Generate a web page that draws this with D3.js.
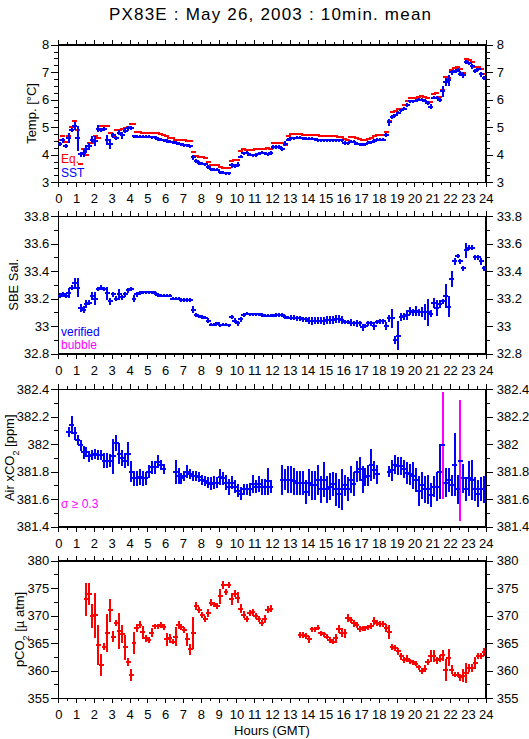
<!DOCTYPE html>
<meta charset="utf-8">
<style>
body { margin: 0; background: #fff; }
svg text { font-family: "Liberation Sans", Arial, Helvetica, sans-serif; }
.axis path, .axis line { stroke: #000; shape-rendering: crispEdges; }
.axis text { font-size: 13px; fill: #000; }
.frame { fill: none; stroke: #000; shape-rendering: crispEdges; }
.marks line { stroke-width: 2; shape-rendering: crispEdges; }
</style>
<svg width="529" height="739"></svg>
<script src="https://d3js.org/d3.v7.min.js"></script>
<script>
// 10-minute bins over the day, index i -> hours (i + 0.5) / 6
const minutes = d3.range(5, 1440, 10);
const hourTicks = d3.range(0, 25, 1);
const halfTicks = d3.range(0.5, 24, 1);

// Equilibrator temperature [degC] (one row per hour)
const eqTemp = [
  4.53, 4.68, 4.48, 4.68, 5.02, 5.22,
  4.9, 3.65, 4.2, 4.0, 4.43, 4.43,
  4.68, 4.6, 5.05, 5.05, 5.05, 4.78,
  4.68, 4.9, 4.9, 4.93, 4.96, 5.0,
  5.12, 5.12, 4.83, 4.83, 4.8, 4.8,
  4.8, 4.8, 4.78, 4.78, 4.75, 4.72,
  4.68, 4.6, 4.6, 4.55, 4.53, 4.53,
  4.53, 4.5, 4.5, 4.1, 3.95, 3.9,
  3.9, 3.88, 3.72, 3.62, 3.62, 3.62,
  3.56, 3.53, 3.53, 3.5, 3.78, 3.8,
  3.8, 4.12, 4.22, 4.17, 4.17, 4.17,
  4.2, 4.22, 4.22, 4.2, 4.25, 4.2,
  4.43, 4.43, 4.43, 4.43, 4.37, 4.68,
  4.75, 4.75, 4.75, 4.75, 4.72, 4.72,
  4.72, 4.72, 4.72, 4.7, 4.68, 4.68,
  4.68, 4.68, 4.68, 4.68, 4.65, 4.65,
  4.57, 4.55, 4.63, 4.63, 4.6, 4.57,
  4.52, 4.52, 4.58, 4.62, 4.67, 4.72,
  4.7, 4.7, 4.83, 5.23, 5.54, 5.59,
  5.65, 5.67, 5.8, 5.95, 6.07, 6.07,
  6.07, 6.1, 6.13, 6.1, 6.05, 5.92,
  6.2, 6.23, 6.1, 6.35, 6.84, 6.78,
  7.08, 7.14, 7.2, 7.1, 6.98, 7.47,
  7.45, 7.36, 7.2, 7.2, 7.1, 6.92
];

// Sea surface temperature [degC] and its std dev
const sst = [
  4.38, 4.52, 4.32, 4.6, 4.9, 5.05,
  4.6, 4.02, 4.07, 4.2, 4.3, 4.55,
  4.5, 4.95, 4.9, 4.93, 4.53, 4.4,
  4.7, 4.6, 4.8, 4.7, 4.87, 4.96,
  4.96, 4.67, 4.66, 4.65, 4.66, 4.65,
  4.65, 4.64, 4.63, 4.57, 4.55, 4.53,
  4.5, 4.48, 4.45, 4.43, 4.4, 4.38,
  4.35, 4.34, 4.3, 3.9, 3.77, 3.7,
  3.68, 3.66, 3.55, 3.47, 3.45, 3.45,
  3.36, 3.35, 3.32, 3.32, 3.62, 3.6,
  3.64, 3.93, 4.05, 4.07, 4.0, 3.98,
  3.99, 4.03, 4.07, 4.05, 4.02, 4.07,
  4.28, 4.28, 4.28, 4.2, 4.4, 4.55,
  4.6, 4.6, 4.61, 4.62, 4.6, 4.58,
  4.58, 4.58, 4.56, 4.53, 4.52, 4.52,
  4.53, 4.53, 4.53, 4.53, 4.52, 4.52,
  4.43, 4.42, 4.47, 4.47, 4.4, 4.38,
  4.37, 4.38, 4.43, 4.45, 4.5, 4.55,
  4.55, 4.55, 4.73, 5.18, 5.38, 5.44,
  5.52, 5.62, 5.68, 5.8, 5.95, 5.95,
  5.97, 6.0, 6.0, 5.97, 5.88, 5.75,
  6.08, 6.08, 6.0, 6.3, 6.65, 6.7,
  6.99, 7.02, 7.08, 6.95, 6.9, 7.36,
  7.32, 7.22, 7.04, 7.1, 6.92, 6.78
];
const sstSd = [
  .03, .04, .03, .15, .04, .1,
  .42, .05, .1, .1, .08, .1,
  .15, .1, .05, .04, .15, .15,
  .06, .03, .05, .08, .05, .05,
  .04, .02, .02, .02, .02, .02,
  .02, .02, .02, .02, .02, .02,
  .02, .02, .02, .02, .02, .02,
  .02, .02, .03, .06, .03, .02,
  .02, .02, .03, .02, .02, .02,
  .02, .02, .02, .03, .05, .03,
  .05, .03, .03, .02, .02, .02,
  .02, .02, .02, .02, .02, .04,
  .02, .02, .02, .03, .05, .03,
  .02, .02, .02, .02, .02, .02,
  .02, .02, .02, .02, .02, .02,
  .02, .02, .02, .02, .02, .02,
  .03, .02, .02, .02, .02, .02,
  .02, .02, .02, .02, .02, .02,
  .02, .02, .04, .1, .03, .02,
  .02, .02, .02, .03, .02, .02,
  .02, .02, .02, .02, .03, .05,
  .03, .03, .03, .18, .12, .15,
  .04, .03, .02, .05, .06, .03,
  .03, .05, .03, .02, .05, .03
];

// SBE salinity and std dev
const sal = [
  33.22, 33.23, 33.22, 33.24, 33.28, 33.31,
  33.28, 33.13, 33.12, 33.16, 33.17, 33.22,
  33.2, 33.27, 33.28, 33.27, 33.24, 33.18,
  33.23, 33.2, 33.23, 33.21, 33.23, 33.26,
  33.27, 33.2, 33.23, 33.24, 33.245, 33.245,
  33.245, 33.245, 33.24, 33.225, 33.22, 33.22,
  33.22, 33.22, 33.2, 33.2, 33.2, 33.19,
  33.19, 33.19, 33.19, 33.12, 33.08, 33.07,
  33.065, 33.06, 33.04, 33.01, 33.01, 33.02,
  33.005, 33.01, 33.01, 33.005, 33.065, 33.04,
  33.02, 33.05, 33.08, 33.09, 33.085, 33.085,
  33.085, 33.085, 33.08, 33.075, 33.075, 33.075,
  33.075, 33.08, 33.08, 33.08, 33.065, 33.06,
  33.06, 33.06, 33.055, 33.055, 33.05, 33.05,
  33.04, 33.035, 33.04, 33.04, 33.04, 33.035,
  33.045, 33.045, 33.045, 33.05, 33.05, 33.045,
  33.03, 33.03, 33.025, 33.02, 33.02, 33.02,
  32.99, 33.0, 33.02, 33.02, 33.0, 33.03,
  33.035, 33.035, 33.0, 33.055, 33.055, 32.9,
  32.93, 33.065, 33.07, 33.08, 33.11, 33.1,
  33.11, 33.1, 33.1, 33.1, 33.1, 33.09,
  33.17, 33.13, 33.16, 33.18, 33.22, 33.14,
  33.34, 33.47, 33.51, 33.47, 33.42, 33.55,
  33.57, 33.57, 33.5, 33.5, 33.47, 33.42
];
const salSd = [
  .01, .01, .01, .03, .01, .03,
  .06, .02, .02, .02, .01, .02,
  .04, .01, .01, .01, .04, .02,
  .01, .01, .03, .01, .01, .01,
  .01, .02, .01, .01, .005, .005,
  .005, .005, .005, .005, .005, .005,
  .005, .005, .005, .005, .005, .005,
  .005, .005, .005, .02, .005, .005,
  .005, .005, .01, .005, .005, .005,
  .005, .005, .005, .005, .01, .01,
  .01, .01, .005, .005, .005, .005,
  .005, .005, .005, .005, .005, .005,
  .005, .005, .005, .005, .005, .005,
  .01, .01, .01, .01, .01, .01,
  .02, .02, .02, .02, .02, .02,
  .02, .02, .02, .02, .02, .02,
  .01, .01, .02, .01, .02, .01,
  .02, .01, .01, .01, .02, .01,
  .01, .01, .02, .02, .06, .02,
  .1, .02, .02, .03, .02, .02,
  .03, .02, .03, .05, .09, .02,
  .03, .05, .02, .01, .08, .07,
  .05, .02, .01, .01, .01, .05,
  .01, .01, .01, .01, .02, .01
];

// Air xCO2 [ppm] and std dev (null = calibration / no data)
const xco2 = [
  null, null, null, 382.09, 382.14, 382.08,
  382.03, 381.99, 381.94, 381.94, 381.91, 381.92,
  381.93, 381.92, 381.92, 381.88, 381.88, 381.88,
  381.91, 382.01, 381.93, 381.9, 381.88, 381.93,
  381.8, 381.75, 381.75, 381.76, 381.75, 381.75,
  381.8, 381.83, 381.83, 381.87, 381.85, 381.82,
  null, null, null, 381.8, 381.77, 381.75,
  381.77, 381.8, 381.78, 381.77, 381.77, 381.76,
  381.74, 381.73, 381.72, 381.71, 381.72, 381.72,
  381.76, 381.75, 381.72, 381.69, 381.72, 381.69,
  381.66, 381.64, 381.67, 381.67, 381.67, 381.71,
  381.69, 381.71, 381.69, 381.69, 381.73, 381.69,
  null, null, null, 381.74, 381.74, 381.74,
  381.74, 381.73, 381.72, 381.72, 381.72, 381.65,
  381.72, 381.7, 381.7, 381.74, 381.67, 381.74,
  381.67, 381.69, 381.71, 381.67, 381.64, 381.67,
  381.7, 381.67, 381.74, 381.71, 381.8, 381.82,
  381.74, 381.76, 381.77, 381.85, 381.81, 381.78,
  null, null, null, 381.8, 381.81, 381.85,
  381.84, 381.84, 381.82, 381.79, 381.78, 381.77,
  381.74, 381.66, 381.7, 381.67, 381.67, 381.63,
  381.69, 381.69, 381.8, 381.99, 381.72, 381.74,
  381.7, 381.85, 381.67, 381.88, 381.75, 381.67,
  381.75, 381.74, 381.67, 381.64, 381.67, 381.67
];
const xco2Sd = [
  null, null, null, .03, .06, .04,
  .03, .03, .04, .03, .03, .03,
  .03, .03, .03, .05, .05, .04,
  .12, .05, .07, .05, .05, .08,
  .07, .05, .05, .05, .05, .04,
  .04, .04, .04, .04, .03, .03,
  null, null, null, .08, .05, .03,
  .03, .04, .03, .03, .03, .03,
  .03, .03, .03, .04, .04, .03,
  .05, .04, .05, .05, .04, .04,
  .04, .04, .03, .03, .04, .06,
  .04, .05, .05, .05, .09, .04,
  null, null, null, .1, .07, .09,
  .09, .09, .08, .08, .08, .08,
  .09, .1, .1, .1, .09, .12,
  .09, .09, .08, .11, .1, .14,
  .07, .08, .09, .08, .07, .08,
  .09, .06, .07, .11, .06, .06,
  null, null, null, .03, .07, .06,
  .06, .06, .06, .07, .07, .09,
  .08, .1, .09, .09, .1, .08,
  .07, .1, .19, .38, .1, .08,
  .07, .22, .1, .43, .1, .08,
  .12, .14, .08, .09, .08, .09
];

// pCO2 [uatm] and std dev
const pco2 = [
  null, null, null, null, null, null,
  null, null, null, 373.0, 373.9, 370.0,
  370.1, 364.7, 361.0, 364.4, 366.8, 371.0,
  366.2, 368.7, 367.2, 366.7, 364.3, 361.6,
  359.3, 365.0, 367.8, 368.4, 367.0, 365.9,
  365.6, 366.9, 368.1, 368.1, 368.3, 367.9,
  365.7, 365.9, 365.3, 366.2, 368.3, 367.9,
  367.4, 365.7, 363.9, 366.8, 371.8, 371.0,
  370.1, 369.4, 370.5, 372.4, 372.1, 371.8,
  373.5, 375.6, 374.3, 375.6, 373.0, 374.0,
  373.3, 371.3, 370.2, 369.4, 370.5, 370.6,
  370.0, 369.4, 368.7, 369.4, 371.1, 371.3,
  null, null, null, null, null, null,
  null, null, null, 366.5, 366.5, 366.3,
  365.7, 367.5, 367.5, 367.8, 366.8, 366.6,
  366.2, 365.6, 365.3, 365.9, 367.6, 366.9,
  366.8, 369.6, 369.2, 368.6, 368.3, 367.6,
  367.7, 367.7, 367.9, 368.1, 369.0, 368.7,
  368.5, 368.5, 367.8, 367.0, 364.3, 364.1,
  363.5, 362.6, 362.0, 362.2, 361.7, 361.5,
  361.3, 360.6, 360.0, 360.4, 361.6, 362.6,
  362.6, 361.9, 362.2, 362.8, 360.2, 362.4,
  360.2, 359.3, 359.3, 358.8, 359.1, 359.6,
  360.5, 360.5, 361.4, 362.7, 362.7, 363.4
];
const pco2Sd = [
  null, null, null, null, null, null,
  null, null, null, 2.8, 1.8, 2.0,
  3.9, 3.4, 1.8, 0.5, 3.3, 1.9,
  0.8, 0.3, 3.1, 1.5, 2.1, 0.5,
  0.9, 1.8, 0.6, 0.4, 1.0, 0.5,
  0.4, 0.6, 0.3, 0.3, 0.3, 0.4,
  1.0, 0.6, 0.3, 1.5, 0.5, 0.4,
  0.3, 1.0, 0.8, 2.7, 0.5, 0.4,
  0.4, 0.4, 0.6, 0.5, 0.3, 0.4,
  1.2, 0.6, 0.4, 0.4, 0.9, 0.5,
  0.8, 0.6, 0.5, 0.4, 0.4, 0.4,
  0.4, 0.4, 0.3, 0.6, 0.5, 0.5,
  null, null, null, null, null, null,
  null, null, null, 0.4, 0.4, 0.4,
  0.5, 0.3, 0.3, 0.3, 0.3, 0.3,
  0.3, 0.4, 0.3, 0.6, 0.6, 0.6,
  0.6, 0.5, 0.4, 0.4, 0.4, 0.4,
  0.3, 0.3, 0.3, 0.4, 0.5, 0.4,
  0.3, 0.3, 0.5, 1.1, 0.4, 0.4,
  0.4, 0.4, 0.4, 0.5, 0.3, 0.3,
  0.3, 0.3, 0.4, 0.4, 0.4, 0.9,
  0.9, 0.5, 0.5, 0.8, 1.8, 1.4,
  0.6, 0.3, 0.3, 0.4, 1.0, 1.7,
  0.6, 0.6, 0.9, 0.4, 0.4, 0.5
];

const svg = d3.select("svg");
const left = 58.3, right = 485.7, ph = 137.5;
const x = d3.scaleLinear().domain([0, 24]).range([left, right]);
const hw = (x(10 / 60) - x(0)) / 2;   // half width of a 10 min bin

svg.append("text")
  .attr("x", 270).attr("y", 20)
  .attr("text-anchor", "middle")
  .attr("textLength", 322).attr("lengthAdjust", "spacing")
  .style("font-size", "17px")
  .text("PX83E : May 26, 2003 : 10min. mean");

const panels = [
  { top: 44.7, domain: [3, 8], major: d3.range(3, 8.01, 1), minor: d3.range(3, 8.01, 0.25),
    fmt: d3.format("d"), title: ["Temp. [°C]"], tx: 31 },
  { top: 216, domain: [32.8, 33.8], major: d3.range(32.8, 33.81, 0.2), minor: d3.range(32.8, 33.81, 0.1),
    fmt: v => d3.format(".1f")(v).replace(/\.0$/, ""), title: ["SBE Sal."], tx: 13 },
  { top: 389, domain: [381.4, 382.4], major: d3.range(381.4, 382.41, 0.2), minor: d3.range(381.4, 382.41, 0.1),
    fmt: v => d3.format(".1f")(v).replace(/\.0$/, ""), title: ["Air xCO", "2", " [ppm]"], tx: 9 },
  { top: 560.7, domain: [355, 380], major: d3.range(355, 380.1, 5), minor: d3.range(355, 380.1, 2.5),
    fmt: d3.format("d"), title: ["pCO", "2", " [µ atm]"], tx: 19 }
];

panels.forEach((p, k) => {
  p.y = d3.scaleLinear().domain(p.domain).range([p.top + ph, p.top]);
  const g = svg.append("g");
  const bottom = p.top + ph;

  // x axes, top and bottom
  g.append("g").attr("class", "axis").attr("transform", `translate(0,${p.top})`)
    .call(d3.axisTop(x).tickValues(hourTicks).tickSize(5).tickFormat("").tickSizeOuter(0));
  g.append("g").attr("class", "axis").attr("transform", `translate(0,${p.top})`)
    .call(d3.axisTop(x).tickValues(halfTicks).tickSize(3).tickFormat("").tickSizeOuter(0));
  g.append("g").attr("class", "axis").attr("transform", `translate(0,${bottom})`)
    .call(d3.axisBottom(x).tickValues(hourTicks).tickSize(5).tickPadding(7).tickFormat(d3.format("d")).tickSizeOuter(0));
  g.append("g").attr("class", "axis").attr("transform", `translate(0,${bottom})`)
    .call(d3.axisBottom(x).tickValues(halfTicks).tickSize(3).tickFormat("").tickSizeOuter(0));

  // y axes, left and right
  g.append("g").attr("class", "axis").attr("transform", `translate(${left},0)`)
    .call(d3.axisLeft(p.y).tickValues(p.major).tickSize(7).tickPadding(2).tickFormat(p.fmt).tickSizeOuter(0));
  g.append("g").attr("class", "axis").attr("transform", `translate(${left},0)`)
    .call(d3.axisLeft(p.y).tickValues(p.minor).tickSize(4).tickFormat("").tickSizeOuter(0));
  g.append("g").attr("class", "axis").attr("transform", `translate(${right},0)`)
    .call(d3.axisRight(p.y).tickValues(p.major).tickSize(7).tickPadding(4).tickFormat(p.fmt).tickSizeOuter(0));
  g.append("g").attr("class", "axis").attr("transform", `translate(${right},0)`)
    .call(d3.axisRight(p.y).tickValues(p.minor).tickSize(4).tickFormat("").tickSizeOuter(0));

  g.append("rect").attr("class", "frame")
    .attr("x", left).attr("y", p.top).attr("width", right - left).attr("height", ph);

  const t = g.append("text")
    .attr("transform", `translate(${p.tx},${p.top + ph / 2}) rotate(-90)`)
    .attr("text-anchor", "middle").attr("dy", "0.35em")
    .style("font-size", "13px");
  p.title.forEach((s, j) => {
    const ts = t.append("tspan").text(s);
    if (j === 1) ts.attr("baseline-shift", "sub").style("font-size", "9px");
  });

  svg.append("clipPath").attr("id", "clip" + k).append("rect")
    .attr("x", left).attr("y", p.top).attr("width", right - left).attr("height", ph);
  p.marks = g.append("g").attr("class", "marks").attr("clip-path", `url(#clip${k})`);
});

// draw step bars (10 min wide) with vertical std dev bars
function drawSeries(p, vals, sds, color, sdColor) {
  const pts = minutes.map((m, i) => ({ h: m / 60, v: vals[i], s: sds ? sds[i] : null }))
    .filter(d => d.v != null);
  if (sds) {
    p.marks.selectAll(null).data(pts).enter().append("line")
      .attr("x1", d => x(d.h)).attr("x2", d => x(d.h))
      .attr("y1", d => p.y(d.v - d.s) + 1).attr("y2", d => p.y(d.v + d.s) - 1)
      .style("stroke", d => sdColor ? sdColor(d) : color);
  }
  p.marks.selectAll(null).data(pts).enter().append("line")
    .attr("x1", d => x(d.h) - hw - 1).attr("x2", d => x(d.h) + hw + 1)
    .attr("y1", d => p.y(d.v)).attr("y2", d => p.y(d.v))
    .style("stroke", color);
}

drawSeries(panels[0], eqTemp, null, "#ff0000");
drawSeries(panels[0], sst, sstSd, "#0000ff");
drawSeries(panels[1], sal, salSd, "#0000ff");
drawSeries(panels[2], xco2, xco2Sd, "#0000ff", d => d.s >= 0.3 ? "#ff00ff" : "#0000ff");
drawSeries(panels[3], pco2, pco2Sd, "#ff0000");

// legends
const legend = [
  { y: 163, text: "Eq.", color: "#ff0000" },
  { y: 177, text: "SST", color: "#0000ff" },
  { y: 336, text: "verified", color: "#0000ff" },
  { y: 349, text: "bubble", color: "#ff00ff" },
  { y: 508, text: "σ ≥ 0.3", color: "#ff00ff" }
];
svg.selectAll(null).data(legend).enter().append("text")
  .attr("x", 61).attr("y", d => d.y)
  .style("font-size", "12px").style("fill", d => d.color)
  .text(d => d.text);

svg.append("text")
  .attr("x", 272).attr("y", 735)
  .attr("text-anchor", "middle")
  .style("font-size", "13px")
  .text("Hours (GMT)");
</script>
